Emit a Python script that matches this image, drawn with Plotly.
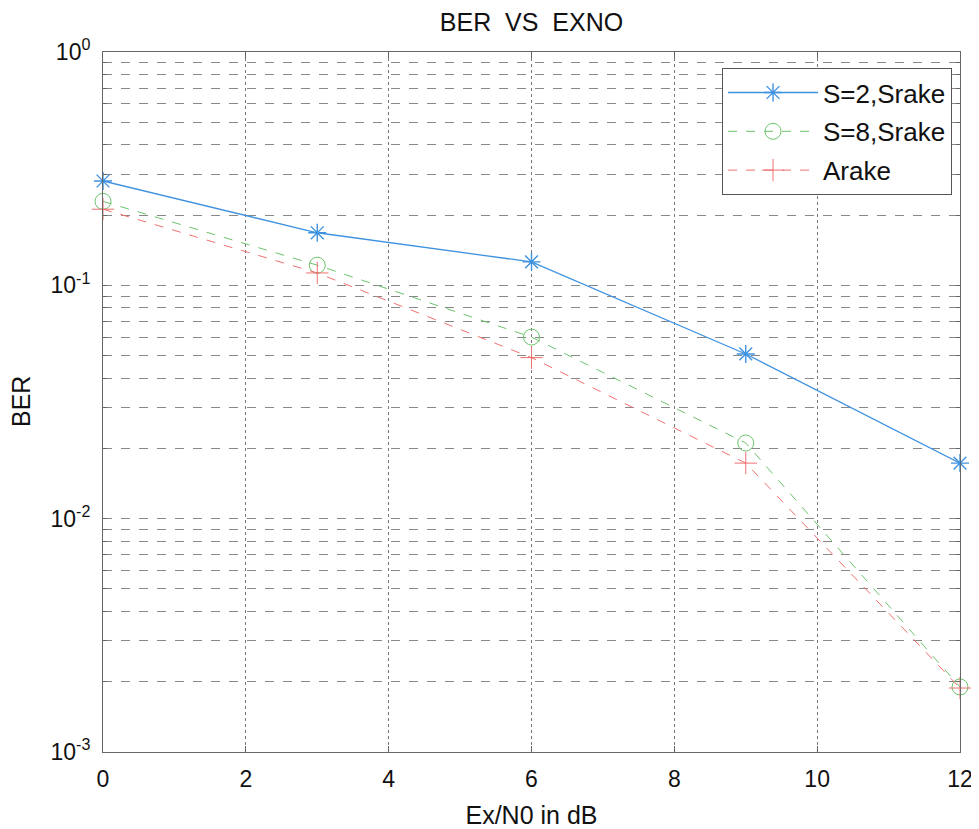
import plotly.graph_objects as go

ebno_db = [0, 3, 6, 9, 12]
ber_s2_srake = [0.28, 0.168, 0.126, 0.0508, 0.0173]
ber_s8_srake = [0.229, 0.122, 0.060, 0.0211, 0.0019]
ber_arake = [0.212, 0.113, 0.049, 0.0173, 0.00188]

x_ticks = [0, 2, 4, 6, 8, 10, 12]
decades = [-3, -2, -1, 0]

y_tickvals = []
y_ticktext = []
for d in decades:
    for m in range(1, 10):
        if d == 0 and m > 1:
            break
        y_tickvals.append(m * 10 ** d)
        y_ticktext.append(f"10<sup>{d}</sup>" if m == 1 else "")

FONT = "Liberation Sans, Arial, Helvetica, sans-serif"
W, H = 971, 821  # page body has an 8px default margin
L, R, T, B = 95, 19, 44, 77

fig = go.Figure()
fig.add_trace(go.Scatter(
    x=ebno_db, y=ber_s2_srake, name="S=2,Srake", mode="lines+markers", legendgroup="a",
    cliponaxis=False,
    line=dict(color="#3f92e0", width=1.3),
    marker=dict(symbol="asterisk-open", size=15, color="#3f92e0", line=dict(width=1.4, color="#3f92e0")),
))
fig.add_trace(go.Scatter(
    x=ebno_db, y=ber_s8_srake, name="S=8,Srake", mode="lines+markers", legendgroup="b",
    cliponaxis=False,
    line=dict(color="#6cc46c", width=1, dash="dash"),
    marker=dict(symbol="circle-open", size=16, color="#6cc46c", line=dict(width=1, color="#6cc46c")),
))
fig.add_trace(go.Scatter(
    x=ebno_db, y=ber_arake, name="Arake", mode="lines+markers", legendgroup="c",
    cliponaxis=False,
    line=dict(color="#f07070", width=1, dash="dash"),
    marker=dict(symbol="cross-thin-open", size=16, color="#f07070", line=dict(width=1, color="#f07070")),
))

plot_w = W - L - R
fig.update_layout(
    width=W, height=H,
    margin=dict(l=L, r=R, t=T, b=B, autoexpand=False),
    paper_bgcolor="white", plot_bgcolor="white",
    font=dict(family=FONT, color="#222222"),
    title=dict(text="BER  VS  EXNO", x=0.5, xanchor="center", xref="paper",
               y=1 - 14 / H, yanchor="middle", automargin=False,
               font=dict(size=25, family=FONT, color="#111111")),
    showlegend=True,
    legend=dict(
        x=0.9907, y=0.977, xanchor="right", yanchor="top",
        bgcolor="white", bordercolor="#555555", borderwidth=1,
        font=dict(size=26, family=FONT, color="#111111"),
        itemwidth=90, tracegroupgap=2,
    ),
    annotations=[dict(
        text="BER", xref="paper", yref="paper", x=(13 - L) / plot_w, y=0.5,
        xanchor="center", yanchor="middle", textangle=-90, showarrow=False,
        font=dict(size=25, family=FONT, color="#111111"),
    )],
)

fig.update_xaxes(
    range=[0, 12], tickvals=x_ticks, ticktext=[str(v) for v in x_ticks],
    automargin=False,
    showline=True, linecolor="#666666", linewidth=1, mirror="ticks",
    ticks="inside", ticklen=6, tickcolor="#666666",
    showgrid=True, gridcolor="#777777", griddash="dot", gridwidth=1,
    zeroline=False, tickfont=dict(size=23, family=FONT, color="#111111"),
    ticklabelstandoff=6,
    title=dict(text="Ex/N0 in dB", font=dict(size=25, family=FONT, color="#111111"), standoff=19),
)
fig.update_yaxes(
    type="log", range=[-3, 0], tickvals=y_tickvals, ticktext=y_ticktext,
    automargin=False,
    showline=True, linecolor="#666666", linewidth=1, mirror="ticks",
    ticks="inside", ticklen=4, tickcolor="#666666",
    showgrid=True, gridcolor="#888888", griddash="dash", gridwidth=1,
    zeroline=False, tickfont=dict(size=23, family=FONT, color="#111111"),
    ticklabelstandoff=7,
)

fig.write_html("out.html")
